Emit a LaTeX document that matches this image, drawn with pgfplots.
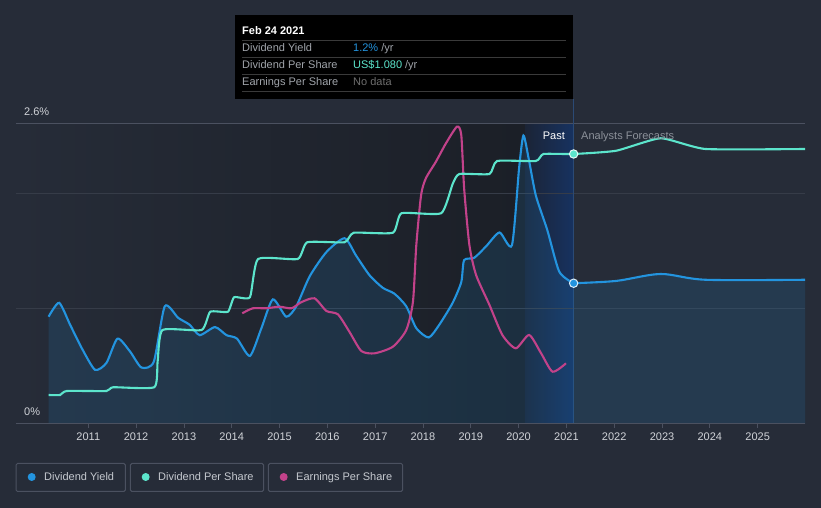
\documentclass[border=0pt]{standalone}
\usepackage{pgfplots}
\pgfplotsset{compat=1.18}
\usepackage{fontspec}
\setmainfont{Liberation Sans}
\definecolor{bg}{HTML}{262C38}
\definecolor{blueline}{HTML}{2394DF}
\definecolor{tealline}{HTML}{5CE5CC}
\definecolor{magline}{HTML}{C2428A}
\definecolor{gridc}{HTML}{363C48}
\definecolor{axisc}{HTML}{4B5160}
\definecolor{tickc}{HTML}{D0D3D8}
\definecolor{darkpast}{HTML}{1B1F27}
\definecolor{bandl}{HTML}{1B2436}
\definecolor{bandr}{HTML}{173260}
\definecolor{todayc}{HTML}{2B4A75}
\definecolor{legtext}{HTML}{C5C9CF}
\definecolor{ttgray}{HTML}{A0A4AA}
\definecolor{ttsep}{HTML}{3A3A3A}
\definecolor{ttno}{HTML}{6E6E6E}
\definecolor{fcgray}{HTML}{8C919A}

\pgfplotstableread{
x y
2010.17 0.93
2010.39 1.05
2010.62 0.86
2010.86 0.66
2011.14 0.47
2011.38 0.53
2011.61 0.74
2011.87 0.63
2012.11 0.49
2012.37 0.54
2012.60 1.02
2012.88 0.92
2013.12 0.86
2013.33 0.77
2013.65 0.84
2013.89 0.77
2014.11 0.74
2014.38 0.59
2014.62 0.83
2014.86 1.08
2015.14 0.93
2015.35 1.02
2015.63 1.28
2015.98 1.49
2016.36 1.61
2016.60 1.46
2016.88 1.29
2017.16 1.18
2017.40 1.13
2017.65 1.02
2017.86 0.83
2018.12 0.75
2018.34 0.86
2018.62 1.05
2018.80 1.23
2018.86 1.42
2019.07 1.44
2019.32 1.54
2019.60 1.66
2019.86 1.55
2020.01 2.22
2020.10 2.50
2020.21 2.30
2020.36 1.98
2020.60 1.68
2020.85 1.32
2021.15 1.22
}\yieldpast

\pgfplotstableread{
x y
2021.15 1.22
2022.04 1.24
2022.97 1.30
2023.91 1.25
2025.99 1.25
}\yieldfc

\pgfplotstableread{
x y
2010.17 0.116
2010.41 0.116
2010.55 0.132
2011.38 0.132
2011.52 0.147
2012.38 0.147
2012.45 0.25
2012.55 0.376
2013.37 0.376
2013.55 0.449
2013.92 0.449
2014.05 0.507
2014.38 0.507
2014.55 0.66
2015.38 0.66
2015.58 0.727
2016.36 0.727
2016.55 0.765
2017.37 0.765
2017.55 0.843
2018.38 0.843
2018.62 0.96
2018.76 1.00
2019.39 1.00
2019.55 1.052
2020.36 1.052
2020.52 1.08
2021.15 1.08
2022.04 1.093
2022.97 1.143
2023.91 1.10
2025.99 1.10
}\dps

\pgfplotstableread{
x y
2014.22 1.107
2014.44 1.157
2014.72 1.157
2015.00 1.173
2015.25 1.157
2015.45 1.217
2015.73 1.257
2015.98 1.13
2016.22 1.097
2016.46 0.923
2016.71 0.73
2016.99 0.707
2017.37 0.773
2017.65 0.94
2017.79 1.223
2017.86 1.79
2017.96 2.29
2018.06 2.457
2018.27 2.623
2018.48 2.807
2018.71 2.973
2018.80 2.89
2018.86 2.357
2018.97 1.79
2019.11 1.49
2019.39 1.19
2019.66 0.89
2019.94 0.757
2020.22 0.89
2020.47 0.707
2020.71 0.523
2020.99 0.607
}\eps

\pgfplotsset{base/.style={at={(16pt,84pt)}, anchor=south west, scale only axis,
  width=789pt, height=300pt, xmin=2009.488, xmax=2025.989}}

\begin{document}
\begin{tikzpicture}[x=1pt,y=1pt]
\fill[bg] (0,0) rectangle (821,508);
\path[use as bounding box] (0,0) rectangle (821,508);

% main axis: yield
\begin{axis}[base, ymin=0, ymax=2.6,
  axis x line*=bottom, axis y line=none,
  x axis line style={-, draw=axisc, line width=1pt},
  xtick={2011,2012,...,2025},
  xticklabels={2011,2012,2013,2014,2015,2016,2017,2018,2019,2020,2021,2022,2023,2024,2025},
  xticklabel style={font=\fontsize{11}{13}\selectfont, text=tickc, yshift=-1.5pt},
  tick style={draw=axisc, line width=0.8pt}, major tick length=4pt, tick align=outside,
  ytick=\empty, axis on top]
  \fill[left color=bg, right color=darkpast] (axis cs:2009.488,0) rectangle (axis cs:2020.13,2.6);
  \fill[left color=bandl, right color=bandr] (axis cs:2020.13,0) rectangle (axis cs:2021.15,2.6);
  \draw[gridc, line width=1pt] (axis cs:2009.488,1) -- (axis cs:2025.989,1);
  \draw[gridc, line width=1pt] (axis cs:2009.488,2) -- (axis cs:2025.989,2);
  \draw[axisc, line width=1pt] (axis cs:2009.488,2.6) -- (axis cs:2025.989,2.6);
  \draw[todayc, line width=1pt] (axis cs:2021.15,0) -- (axis cs:2021.15,2.6);
  \addplot[draw=none, fill=blueline, fill opacity=0.14, smooth, tension=0.4] table {\yieldpast} \closedcycle;
  \addplot[draw=none, fill=blueline, fill opacity=0.14, smooth, tension=0.4] table {\yieldfc} \closedcycle;
  \addplot[blueline, line width=2.1pt, smooth, tension=0.4] table {\yieldpast};
  \addplot[blueline, line width=2.1pt, smooth, tension=0.5] table {\yieldfc};
\end{axis}

% EPS axis
\begin{axis}[base, ymin=0, ymax=3.0, axis lines=none]
  \addplot[magline, line width=2.1pt, smooth, tension=0.4] table {\eps};
\end{axis}

% DPS axis
\begin{axis}[base, ymin=0, ymax=1.2, axis lines=none]
  \addplot[tealline, line width=2.1pt, smooth, tension=0.3] table {\dps};
\end{axis}

% today markers
\begin{axis}[base, ymin=0, ymax=2.6, axis lines=none, clip=false]
  \addplot[only marks, mark=*, mark size=4.2pt, mark options={fill=blueline, draw=white!85!blueline, line width=1pt}] coordinates {(2021.15,1.22)};
\end{axis}
\begin{axis}[base, ymin=0, ymax=1.2, axis lines=none, clip=false]
  \addplot[only marks, mark=*, mark size=4.2pt, mark options={fill=tealline, draw=white!85!tealline, line width=1pt}] coordinates {(2021.15,1.08)};
\end{axis}

% y labels
\node[anchor=base west, text=tickc, font=\fontsize{11}{13}\selectfont, inner sep=0] at (24,392) {2.6\%};
\node[anchor=base west, text=tickc, font=\fontsize{11}{13}\selectfont, inner sep=0] at (24,92) {0\%};

% Past / forecast
\node[anchor=base east, text=white, font=\fontsize{11}{13}\selectfont, inner sep=0] at (565,368) {Past};
\node[anchor=base west, text=fcgray, font=\fontsize{11}{13}\selectfont, inner sep=0] at (581,368) {Analysts Forecasts};

% tooltip
\draw[todayc, line width=1pt] (573.3,409) -- (573.3,384);
\fill[black] (235,409) rectangle (573,493);
\foreach \yy in {467.5,450.7,433.7,417} {\draw[ttsep, line width=0.8pt] (242,\yy) -- (566,\yy);}
\node[anchor=base west, text=white, font=\fontsize{11}{13}\selectfont\bfseries, inner sep=0] at (242,473) {Feb 24 2021};
\node[anchor=base west, text=ttgray, font=\fontsize{11}{13}\selectfont, inner sep=0] at (242,456.3) {Dividend Yield};
\node[anchor=base west, text=ttgray, font=\fontsize{11}{13}\selectfont, inner sep=0] at (242,439.7) {Dividend Per Share};
\node[anchor=base west, text=ttgray, font=\fontsize{11}{13}\selectfont, inner sep=0] at (242,422.7) {Earnings Per Share};
\node[anchor=base west, font=\fontsize{11}{13}\selectfont, inner sep=0] at (353,456.3) {\textcolor{blueline}{1.2\%} \textcolor{ttgray}{/yr}};
\node[anchor=base west, font=\fontsize{11}{13}\selectfont, inner sep=0] at (353,439.7) {\textcolor{tealline}{US\$1.080} \textcolor{ttgray}{/yr}};
\node[anchor=base west, text=ttno, font=\fontsize{11}{13}\selectfont, inner sep=0] at (353,422.7) {No data};

% legend
\draw[axisc, line width=1pt, rounded corners=1.5pt] (16,16.5) rectangle (125.3,44.5);
\draw[axisc, line width=1pt, rounded corners=1.5pt] (130.3,16.5) rectangle (263.7,44.5);
\draw[axisc, line width=1pt, rounded corners=1.5pt] (268.3,16.5) rectangle (402.7,44.5);
\fill[blueline] (31.7,31) circle (4);
\fill[tealline] (145.7,31) circle (4);
\fill[magline] (283.7,31) circle (4);
\node[anchor=base west, text=legtext, font=\fontsize{11}{13}\selectfont, inner sep=0] at (44,27) {Dividend Yield};
\node[anchor=base west, text=legtext, font=\fontsize{11}{13}\selectfont, inner sep=0] at (158,27) {Dividend Per Share};
\node[anchor=base west, text=legtext, font=\fontsize{11}{13}\selectfont, inner sep=0] at (296,27) {Earnings Per Share};
\end{tikzpicture}
\end{document}
